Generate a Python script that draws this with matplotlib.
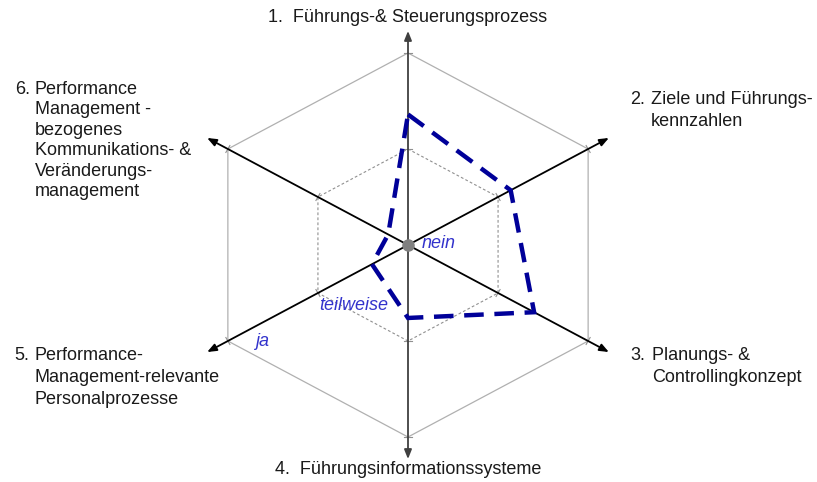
import matplotlib
matplotlib.use("Agg")
import matplotlib.pyplot as plt
import numpy as np

plt.rcParams['font.family'] = ['Liberation Sans', 'DejaVu Sans']

# six dimensions, clockwise from the top
dims = ["1.  Führungs-& Steuerungsprozess",
        "2. Ziele und Führungs-\nkennzahlen",
        "3. Planungs- &\nControllingkonzept",
        "4.  Führungsinformationssysteme",
        "5. Performance-\nManagement-relevante\nPersonalprozesse",
        "6. Performance\nManagement -\nbezogenes\nKommunikations- &\nVeränderungs-\nmanagement"]
# 0 = nein, 0.5 = teilweise, 1 = ja
values = [0.68, 0.57, 0.70, 0.38, 0.20, 0.11]
levels = [0.0, 0.5, 1.0]
level_names = ["nein", "teilweise", "ja"]

angles = np.deg2rad([90, 30, -30, -90, -150, 150])

W, H = 817, 482
cx, cy = 408, 245      # centre in pixels
ux, uy = 208, 192      # pixels per unit (picture is a bit stretched)

fig = plt.figure(figsize=(W / 100, H / 100), dpi=100)
ax = fig.add_axes([0, 0, 1, 1])
ax.set_xlim(-cx / ux, (W - cx) / ux)
ax.set_ylim(-(H - cy) / uy, cy / uy)
ax.axis("off")

cosa = np.cos(angles)
sina = np.sin(angles)

# grid hexagons
hx = np.append(cosa, cosa[0])
hy = np.append(sina, sina[0])
ax.plot(hx, hy, color="#b0b0b0", lw=0.9, zorder=1)
ax.plot(0.5 * hx, 0.5 * hy, color="#909090", lw=0.8, ls=(0, (2.5, 2)), zorder=1)

# little ticks where the grid meets the axes
for a in angles:
    px, py = -np.sin(a) / ux, np.cos(a) / uy
    for r in levels[1:]:
        x0, y0 = r * np.cos(a), r * np.sin(a)
        ax.plot([x0 - 4 * px, x0 + 4 * px], [y0 - 4 * py, y0 + 4 * py],
                color="#909090", lw=0.8, zorder=1)

# axes with arrows
for i, a in enumerate(angles):
    col = "#404040" if i in (0, 3) else "black"
    ax.annotate("", xy=(1.115 * np.cos(a), 1.115 * np.sin(a)), xytext=(0, 0),
                arrowprops=dict(arrowstyle="-|>,head_length=0.55,head_width=0.22",
                                color=col, lw=1.3, shrinkA=0, shrinkB=0),
                zorder=2)

# profile
vx = np.array(values) * cosa
vy = np.array(values) * sina
ax.plot(np.append(vx, vx[0]), np.append(vy, vy[0]), color="#000099", lw=3.2,
        ls=(0, (4.4, 2.4)), solid_joinstyle="miter", dash_joinstyle="miter", zorder=3)

ax.plot(0, 0, "o", color="#808080", ms=8, zorder=4)

# level names
def px2d(x, y):
    return (x - cx) / ux, (cy - y) / uy

blue = "#3333cc"
for name, pos in zip(level_names, [(422, 243), (319, 305), (255, 342)]):
    ax.text(*px2d(*pos), name, color=blue, style="italic", fontsize=13,
            ha="left", va="center", zorder=5)

# dimension labels
fs = 13
ink = "#1a1a1a"
ax.text(*px2d(408, 17), dims[0], ha="center", va="center", fontsize=fs, color=ink)
ax.text(*px2d(408, 469), dims[3], ha="center", va="center", fontsize=fs, color=ink)

def block(label, x_num, x_txt, y_top, spacing):
    num, rest = label.split(" ", 1)
    lines = rest.split("\n")
    ax.text(*px2d(x_num, y_top), num, ha="left", va="center", fontsize=fs, color=ink)
    for k, line in enumerate(lines):
        ax.text(*px2d(x_txt, y_top + k * spacing), line, ha="left", va="center",
                fontsize=fs, color=ink)

block(dims[1], 630, 651, 100, 21)
block(dims[2], 630, 652, 356, 21)
block(dims[4], 14, 35, 356, 21.5)
block(dims[5], 15, 35, 89, 20.6)

fig.savefig("out.png", dpi=100)
